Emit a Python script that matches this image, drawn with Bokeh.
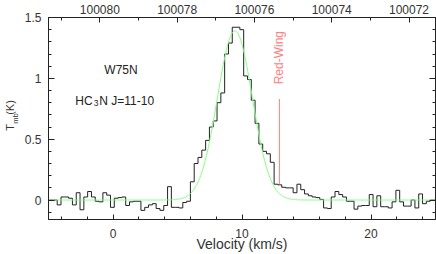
import numpy as np
from bokeh.plotting import figure
from bokeh.models import (Range1d, LinearAxis, SingleIntervalTicker, Label,
                          BasicTickFormatter, CustomJSTickFormatter)
from bokeh.embed import file_html
from bokeh.resources import INLINE

# ---- data -------------------------------------------------------------
# channel grid (km/s): first channel centre and channel width
v_first = -5.0625
dv = 0.295
# main-beam temperature per channel (K)
t_mb = [
    0.0, 0.0, 0.0, -0.04, 0.025, 0.025, 0.015, -0.04, 0.06, -0.08,
    0.025, 0.07, 0.025, -0.01, -0.015, 0.06, 0.04, -0.06, 0.015, 0.02,
    0.025, -0.045, -0.015, -0.01, -0.01, -0.085, -0.06, -0.04, -0.03, -0.07,
    -0.085, -0.045, 0.11, -0.06, -0.06, -0.065, -0.02, -0.01, 0.15, 0.30,
    0.35, 0.41, 0.49, 0.60, 0.65, 0.80, 0.88, 1.20, 1.29, 1.42,
    1.42, 1.40, 1.02, 0.99, 0.82, 0.63, 0.46, 0.40, 0.38, 0.31,
    0.13, 0.125, 0.105, 0.10, 0.10, 0.06, 0.13, 0.085, 0.05, 0.035,
    0.025, 0.02, 0.005, -0.065, -0.07, 0.025, 0.07, 0.045, 0.025, -0.01,
    -0.01, -0.075, -0.05, -0.045, -0.045, 0.045, -0.055, 0.035, -0.055, -0.055,
    -0.065, -0.015, 0.08, -0.015, -0.05, -0.05, 0.0, -0.065, 0.05, -0.03,
    -0.01, 0.0, 0.0,
]
velocity = v_first + dv * np.arange(len(t_mb))

# Gaussian fit parameters
fit_amp = 1.39
fit_v0 = 9.45
fit_sigma = 1.35

# red-wing marker
wing_v = 12.9
wing_t = [0.13, 0.83]

# frequency axis (MHz): frequency at v=0 and km/s per MHz
freq_at_v0 = 100079.66
kms_per_mhz = 2.9956

x_lo, x_hi = -5.0, 25.0
y_lo, y_hi = -0.16, 1.5

source_name = "W75N"
line_name = ["HC", "3", "N J=11-10"]
wing_text = "Red-Wing"
x_label = "Velocity (km/s)"
# "T" ... "(K)" with no-break spaces leaving room for the subscript "mb"
y_label_main = "\u00a0\u00a0T\u00a0\u00a0\u00a0(K)"
y_label_sub = "mb"

# ---- figure -----------------------------------------------------------
FONT = "Liberation Sans"
INK = "#222222"
TXT = "#333333"

p = figure(width=436, height=254, x_range=(x_lo, x_hi), y_range=(y_lo, y_hi),
           output_backend="svg", toolbar_location=None,
           min_border_left=47, min_border_right=1, min_border_top=17,
           min_border_bottom=0)
p.grid.visible = False
p.outline_line_color = INK
p.background_fill_color = "white"
p.border_fill_color = "white"


def style_axis(ax, maj=6, mnr=3):
    ax.axis_line_color = INK
    ax.major_tick_line_color = INK
    ax.minor_tick_line_color = INK
    ax.major_tick_in = maj
    ax.major_tick_out = 0
    ax.minor_tick_in = mnr
    ax.minor_tick_out = 0
    ax.major_label_text_font = FONT
    ax.major_label_text_font_size = "12px"
    ax.major_label_text_color = TXT
    ax.axis_label_text_font = FONT
    ax.axis_label_text_font_style = "normal"
    ax.axis_label_text_color = TXT


# bottom axis
xa = p.xaxis[0]
xa.ticker = SingleIntervalTicker(interval=10, num_minor_ticks=5)
style_axis(xa, 5, 3)
xa.major_label_standoff = 9
xa.axis_label = x_label
xa.axis_label_text_font_size = "14px"
xa.axis_label_standoff = -5

# left axis (ticks, tick labels and the subscript of the label)
ya = p.yaxis[0]
ya.ticker = SingleIntervalTicker(interval=0.5, num_minor_ticks=5)
style_axis(ya, 6, 3)
ya.major_label_standoff = 7
ya.major_label_overrides = {0: "0", 0.5: "0.5", 1: "1", 1.5: "1.5"}
ya.axis_label = y_label_sub
ya.axis_label_text_font_size = "7.5px"
ya.axis_label_standoff = 2

# outer left axis: only carries the main part of the y label
yl = LinearAxis(ticker=SingleIntervalTicker(interval=0.5, num_minor_ticks=5),
                formatter=CustomJSTickFormatter(code="return ''"))
yl.axis_line_color = None
yl.major_tick_line_color = None
yl.minor_tick_line_color = None
yl.major_tick_in = 0
yl.major_tick_out = 0
yl.minor_tick_in = 0
yl.minor_tick_out = 0
yl.major_label_standoff = 0
yl.axis_label = y_label_main
yl.axis_label_text_font = FONT
yl.axis_label_text_font_size = "11px"
yl.axis_label_text_font_style = "normal"
yl.axis_label_text_color = TXT
yl.axis_label_standoff = -8
p.add_layout(yl, "left")

# right axis (ticks only)
ra = LinearAxis(ticker=SingleIntervalTicker(interval=0.5, num_minor_ticks=5),
                formatter=CustomJSTickFormatter(code="return ''"))
style_axis(ra, 6, 3)
ra.major_label_standoff = 0
p.add_layout(ra, "right")

# top axis (frequency)
p.extra_x_ranges = {"freq": Range1d(start=freq_at_v0 - x_lo / kms_per_mhz,
                                    end=freq_at_v0 - x_hi / kms_per_mhz)}
ta = LinearAxis(x_range_name="freq",
                ticker=SingleIntervalTicker(interval=2, num_minor_ticks=2),
                formatter=BasicTickFormatter(use_scientific=False))
style_axis(ta, 5, 3)
ta.major_label_standoff = 4
p.add_layout(ta, "above")

# spectrum
p.step(velocity, t_mb, mode="center", line_color=INK, line_width=1)

# Gaussian fit
v_fit = np.linspace(x_lo, x_hi, 601)
t_fit = fit_amp * np.exp(-0.5 * ((v_fit - fit_v0) / fit_sigma) ** 2)
p.line(v_fit, t_fit, line_color="#80ff80", line_width=1)

# red wing marker
p.segment(x0=[wing_v], y0=[wing_t[0]], x1=[wing_v], y1=[wing_t[1]],
          line_color="#ff8080", line_width=1)
p.add_layout(Label(x=wing_v, y=1.17, text=wing_text, angle=np.pi / 2,
                   text_align="center", text_baseline="middle",
                   text_font=FONT, text_font_size="12px", text_color="#ff8080"))

# annotations
p.add_layout(Label(x=-0.67, y=1.07, text=source_name, text_font=FONT,
                   text_font_size="12px", text_color=INK,
                   text_baseline="alphabetic"))
p.add_layout(Label(x=-2.92, y=0.815, text=line_name[0], text_font=FONT,
                   text_font_size="12px", text_color=INK,
                   text_baseline="alphabetic"))
p.add_layout(Label(x=-2.92, y=0.815, x_offset=18.5, y_offset=-2.5,
                   text=line_name[1], text_font=FONT, text_font_size="8.5px",
                   text_color=INK, text_baseline="alphabetic"))
p.add_layout(Label(x=-2.92, y=0.815, x_offset=24, text=line_name[2],
                   text_font=FONT, text_font_size="12px", text_color=INK,
                   text_baseline="alphabetic"))

open("out.html", "w").write(file_html(p, INLINE))
